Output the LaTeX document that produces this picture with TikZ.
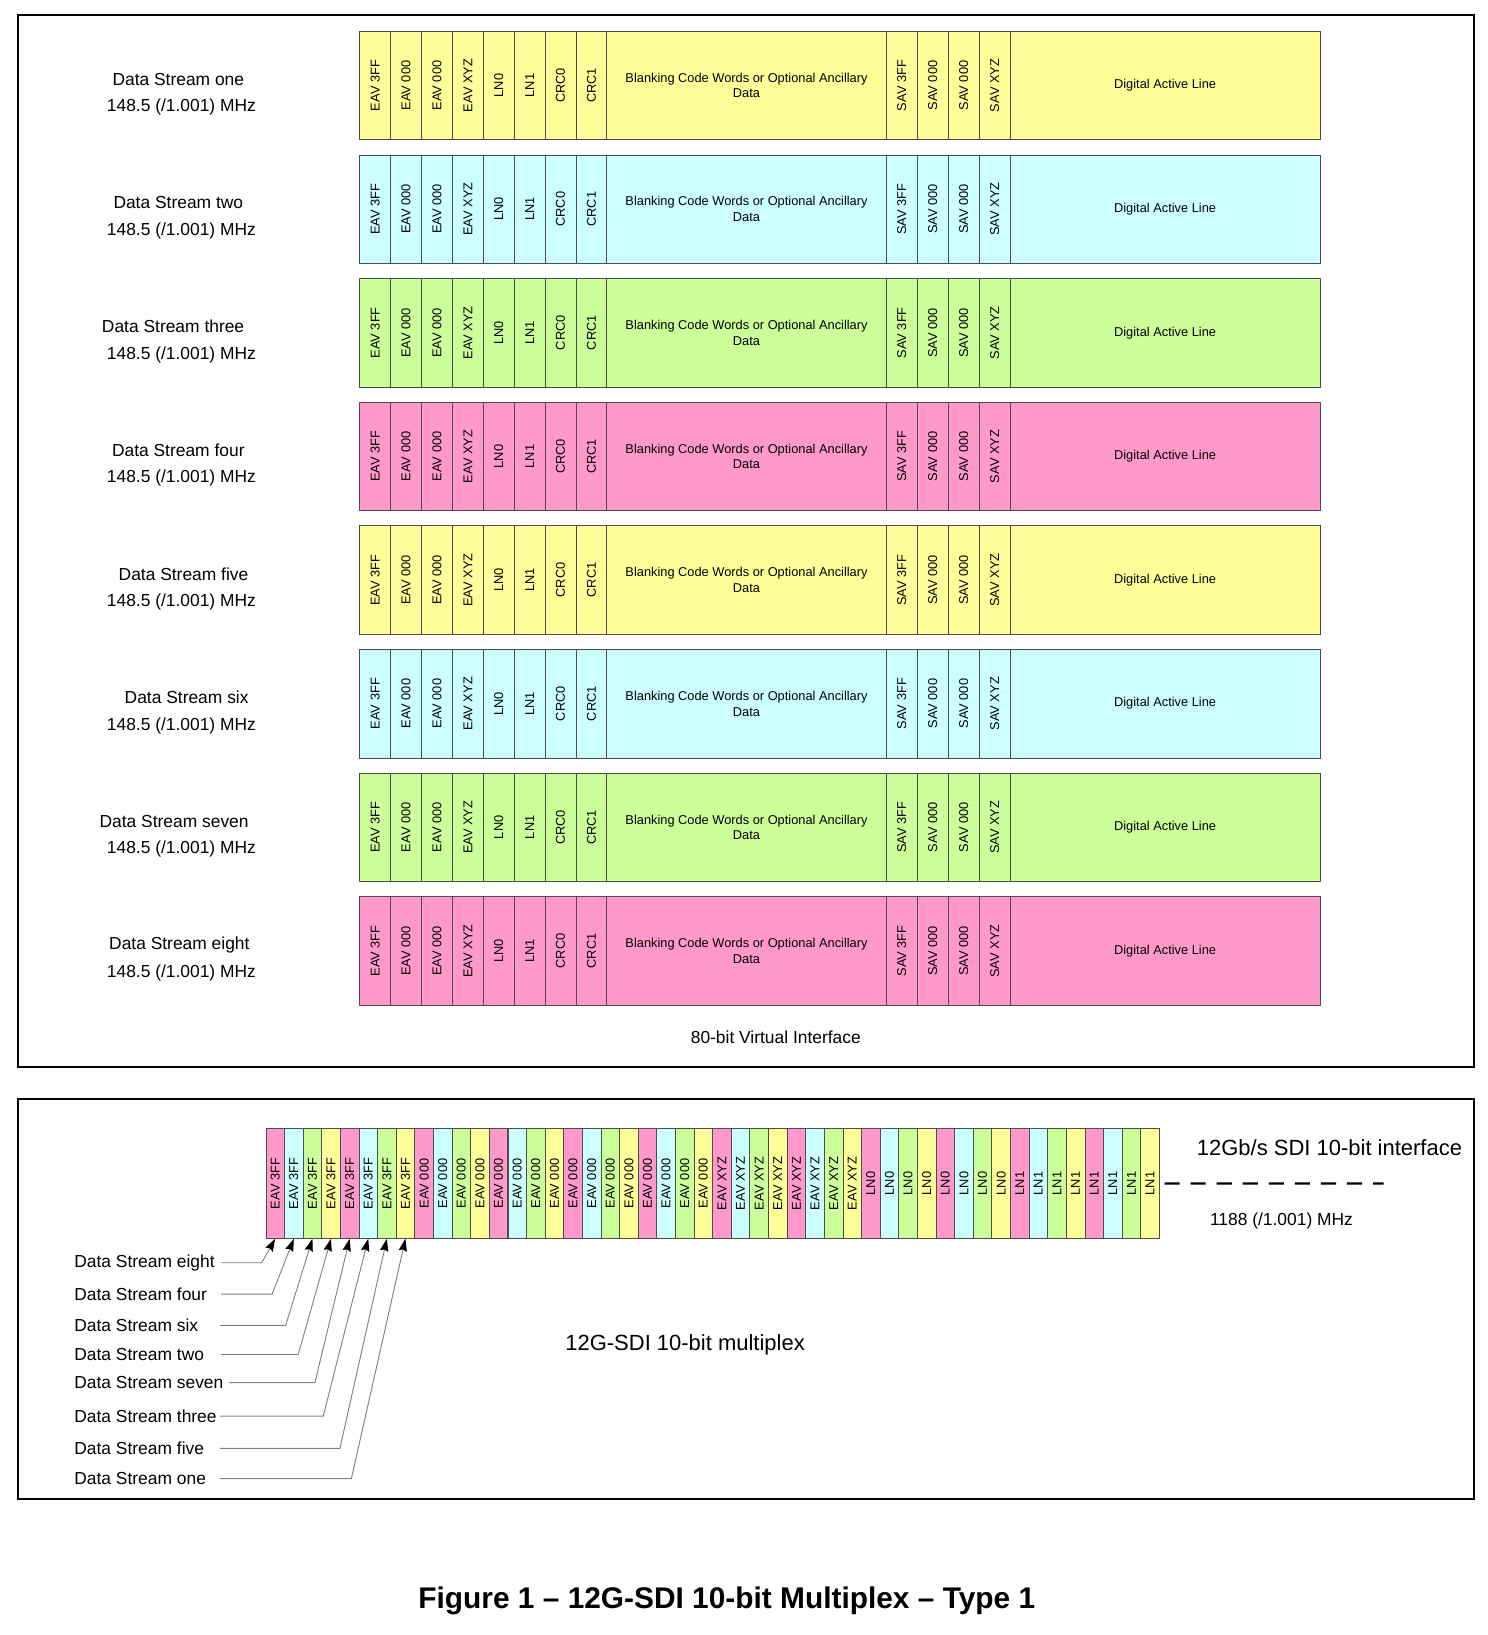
\documentclass[tikz,border=0pt]{standalone}
\usepackage{fontspec}
\setmainfont{Liberation Sans}
\usetikzlibrary{positioning, arrows.meta}
\definecolor{ylw}{HTML}{FFFF99}
\definecolor{cyn}{HTML}{CCFFFF}
\definecolor{grn}{HTML}{CCFF99}
\definecolor{pnk}{HTML}{FF99CC}
\newcommand{\vt}[1]{\rotatebox{90}{#1}}

\begin{document}
\begin{tikzpicture}[x=0.02cm, y=-0.02cm,
  frame/.style={draw=black, line width=1.1pt},
  word/.style={draw=black!70, fill=#1, minimum height=2.08cm, minimum width=0.5925cm,
    inner sep=0pt, outer sep=0pt, align=center, font=\fontsize{7}{8.5}\selectfont},
  muxword/.style={word=#1, minimum height=2.12cm, minimum width=0.357cm, anchor=north west},
  streamname/.style={font=\fontsize{9.5}{11}\selectfont},
  bigtext/.style={font=\fontsize{12}{14}\selectfont},
  lead/.style={draw=black!50, line width=0.5pt, -{Stealth[length=0.24cm, width=0.16cm, inset=0.03cm, color=black]}},
  dashline/.style={draw=black, line width=1.2pt, dash pattern=on 0.29cm off 0.21cm}]
  \useasboundingbox (0,0) rectangle (1427,1568);

  % 80-bit virtual interface
  \draw[frame] (17,14) rectangle (1414,1023);
  \foreach \fillc/\nm/\nx [count=\row] in {ylw/one/171, cyn/two/171, grn/three/166, pnk/four/171,
                                           ylw/five/176, cyn/six/179, grn/seven/167, pnk/eight/172} {
    \node[word=\fillc, anchor=north west] (d\row c1) at (345,{30+118.57*(\row-1)}) {\vt{EAV 3FF}};
    \foreach \w/\t [count=\i from 2] in {0.5925/\vt{EAV 000}, 0.5925/\vt{EAV 000},
        0.5925/\vt{EAV XYZ}, 0.5925/\vt{LN0}, 0.5925/\vt{LN1}, 0.5925/\vt{CRC0},
        0.5925/\vt{CRC1}, 5.36/{Blanking Code Words or Optional Ancillary\\Data},
        0.595/\vt{SAV 3FF}, 0.595/\vt{SAV 000}, 0.595/\vt{SAV 000}, 0.595/\vt{SAV XYZ},
        5.94/{Digital Active Line}} {
      \pgfmathtruncatemacro\j{\i-1}
      \node[word=\fillc, minimum width=\w cm, right=0pt of d\row c\j] (d\row c\i) {\t};
    }
    \node[streamname] (n\row) at (\nx,{76+118.57*(\row-1)}) {Data Stream \nm};
    \node[streamname] (f\row) at (174,{103+118.57*(\row-1)}) {148.5 (/1.001) MHz};
  }
  \node[streamname] (vif) at (744,995) {80-bit Virtual Interface};

  % 12G-SDI multiplex
  \draw[frame] (17,1054) rectangle (1414,1438);
  \foreach \t [count=\g] in {EAV 3FF, EAV 000, EAV 000, EAV XYZ, LN0, LN1} {
    \foreach \s/\fillc in {1/pnk, 2/cyn, 3/grn, 4/ylw, 5/pnk, 6/cyn, 7/grn, 8/ylw} {
      \pgfmathtruncatemacro\i{(\g-1)*8+\s}
      \node[muxword=\fillc] (m\i) at ({255+17.85*(\i-1)},1082) {\vt{\t}};
    }
  }
  \coordinate (sdi) at (1327,1135);
  \draw[dashline] ([xshift=0.1cm]m48.east) -- (sdi);
  \node[bigtext] (sdiname) at (1275,1101) {12Gb/s SDI 10-bit interface};
  \node[streamname] (sdiclk) at (1229,1171) {1188 (/1.001) MHz};
  \node[bigtext] (muxname) at (657,1290) {12G-SDI 10-bit multiplex};

  \foreach \nm/\y/\xa/\xb [count=\k] in {eight/1211/212/251, four/1241/212/261, six/1271/211/274,
      two/1299/212/286, seven/1326/220/302, three/1358/211/310, five/1389/211/326, one/1418/211/337} {
    \node[streamname, anchor=west, inner sep=0pt] (t\k) at (71,\y) {Data Stream \nm};
    \coordinate (a\k) at (\xa,\y);
    \coordinate (b\k) at (\xb,\y);
    \draw[lead] (a\k) -- (b\k) -- (m\k.south);
  }

  \node[font=\bfseries\fontsize{16.3}{19}\selectfont] (fig) at (697,1535)
    {Figure 1 – 12G-SDI 10-bit Multiplex – Type 1};
\end{tikzpicture}
\end{document}
